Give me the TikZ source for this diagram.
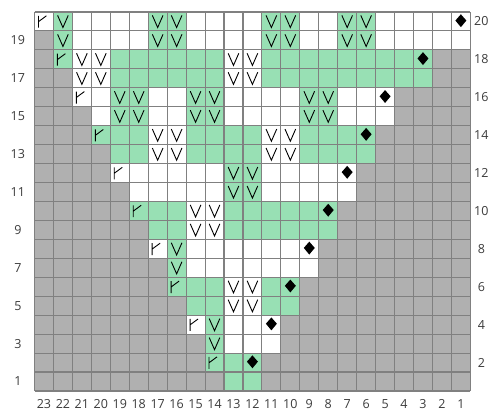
\documentclass[tikz,border=0pt]{standalone}
\usepackage{fontspec}
\setmainfont{Open Sans}
\definecolor{cgreen}{RGB}{152,224,180}
\definecolor{cgray}{RGB}{176,176,176}
\definecolor{cline}{RGB}{128,128,128}
\definecolor{ctext}{RGB}{60,60,60}
\newcount\kcol
\def\kV{\draw[symline] (\the\kcol+0.22,\krow+0.82) -- (\the\kcol+0.5,\krow+0.18) -- (\the\kcol+0.78,\krow+0.82);}
\def\kT{\draw[symline] (\the\kcol+0.21,\krow+0.80) -- (\the\kcol+0.21,\krow+0.17) (\the\kcol+0.21,\krow+0.49) -- (\the\kcol+0.63,\krow+0.80);}
\def\kD{\fill[black] (\the\kcol+0.5,\krow+0.88) -- (\the\kcol+0.79,\krow+0.55) -- (\the\kcol+0.5,\krow+0.2) -- (\the\kcol+0.21,\krow+0.55) -- cycle;}
\def\kbox#1{\fill[#1] (\the\kcol,\krow) rectangle +(1,1);}
\def\kcell#1{%
  \ifx#1x\kbox{cgray}\fi
  \ifx#1w\kbox{white}\fi
  \ifx#1g\kbox{cgreen}\fi
  \ifx#1v\kbox{white}\kV\fi
  \ifx#1V\kbox{cgreen}\kV\fi
  \ifx#1t\kbox{white}\kT\fi
  \ifx#1T\kbox{cgreen}\kT\fi
  \ifx#1d\kbox{white}\kD\fi
  \ifx#1D\kbox{cgreen}\kD\fi}
\def\kparse#1{\ifx#1\relax\else\kcell{#1}\advance\kcol by 1\relax\expandafter\kparse\fi}
\newcommand\krowdata[2]{\def\krow{#1}\kcol=0 \kparse#2\relax}
\begin{document}
\begin{tikzpicture}[x=18.95bp,y=18.95bp,
  symline/.style={black, line width=0.9bp, line cap=butt, line join=miter},
  gridline/.style={cline, line width=1.1bp},
  lab/.style={text=ctext, inner sep=0pt, font=\fontsize{12.5bp}{15bp}\selectfont}]
\useasboundingbox[fill=white] (-1.8206,-1.0554) rectangle (24.195,20.633);
\krowdata{19}{tVwwwwVVwwwwVVwwVVwwwwd}
\krowdata{18}{xVwwwwVVwwwwVVwwVVwwwww}
\krowdata{17}{xTvvggggggvvggggggggDxx}
\krowdata{16}{xxvvggggggvvgggggggggxx}
\krowdata{15}{xxtwVVwwVVwwwwVVwwdxxxx}
\krowdata{14}{xxxwVVwwVVwwwwVVwwwxxxx}
\krowdata{13}{xxxTggvvggggvvgggDxxxxx}
\krowdata{12}{xxxxggvvggggvvggggxxxxx}
\krowdata{11}{xxxxtwwwwwVVwwwwdxxxxxx}
\krowdata{10}{xxxxxwwwwwVVwwwwwxxxxxx}
\krowdata{9}{xxxxxTggvvgggggDxxxxxxx}
\krowdata{8}{xxxxxxggvvggggggxxxxxxx}
\krowdata{7}{xxxxxxtVwwwwwwdxxxxxxxx}
\krowdata{6}{xxxxxxxVwwwwwwwxxxxxxxx}
\krowdata{5}{xxxxxxxTggvvgDxxxxxxxxx}
\krowdata{4}{xxxxxxxxggvvggxxxxxxxxx}
\krowdata{3}{xxxxxxxxtVwwdxxxxxxxxxx}
\krowdata{2}{xxxxxxxxxVwwwxxxxxxxxxx}
\krowdata{1}{xxxxxxxxxTgDxxxxxxxxxxx}
\krowdata{0}{xxxxxxxxxxggxxxxxxxxxxx}
\foreach \i in {0,...,23} \draw[gridline] (\i,0) -- (\i,20);
\foreach \j in {0,...,20} \draw[gridline] (0,\j) -- (23,\j);
\foreach \r in {1,3,...,19} \node[lab] (L\r) at (-0.88,\r-0.5) {\r};
\foreach \r in {2,4,...,20} \node[lab] (R\r) at (23.58,\r-0.5) {\r};
\foreach \c in {1,...,23} \node[lab] (C\c) at (23.5-\c,-0.675) {\c};
\end{tikzpicture}
\end{document}
